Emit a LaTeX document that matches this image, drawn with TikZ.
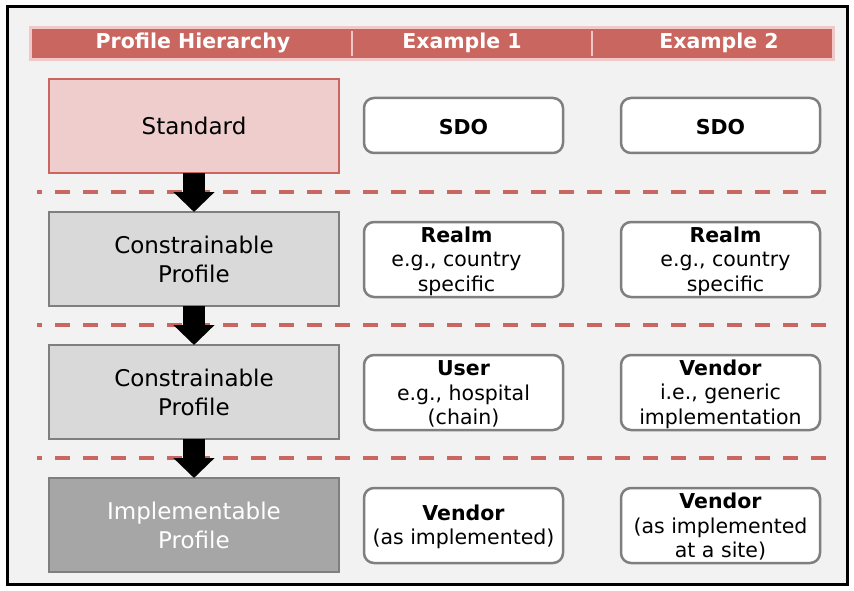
\documentclass[tikz,border=0pt]{standalone}
\usepackage{fontspec}
\setmainfont{DejaVu Sans}
\usetikzlibrary{arrows.meta}
\definecolor{hdr}{RGB}{201,102,96}
\definecolor{hdredge}{RGB}{240,200,200}
\definecolor{stdfill}{RGB}{238,205,204}
\definecolor{bgc}{RGB}{242,242,242}
\definecolor{grayfill}{RGB}{217,217,217}
\definecolor{darkfill}{RGB}{166,166,166}
\definecolor{edgegray}{RGB}{127,127,127}
\tikzset{
  lbox/.style={rectangle, minimum width=290pt, minimum height=94pt, line width=2.5pt,
    draw=edgegray, fill=grayfill, align=center, inner sep=0pt, outer sep=0pt,
    font=\fontsize{23}{29}\selectfont},
  rbox/.style={rectangle, rounded corners=10pt, minimum width=199pt, minimum height=75pt,
    line width=2.5pt, draw=edgegray, fill=white, outer sep=0pt},
  rtext/.style={align=center, inner sep=0pt, font=\fontsize{20.5}{24.5}\selectfont},
  htext/.style={text=white, font=\fontsize{20.5}{24}\selectfont\bfseries},
  sep/.style={draw=hdr, line width=4pt, dash pattern=on 15pt off 13pt, dash phase=10pt},
  blockarrow/.style={line width=22pt, -{Triangle[width=40pt,length=20pt]}},
}
\begin{document}
\begin{tikzpicture}[x=1pt,y=-1pt]
\useasboundingbox (0,0) rectangle (854,591);
\fill[white] (0,0) rectangle (854,591);
\draw[line width=3pt, fill=bgc] (7,7) rectangle (847,584);
% header
\draw[line width=3pt, draw=hdredge, fill=hdr] (30.5,27.5) rectangle (833.5,59.5);
\draw[hdredge, line width=2.5pt] (352,31) -- (352,56);
\draw[hdredge, line width=2.5pt] (592,31) -- (592,56);
\node[htext] (h1) at (193,43) {Profile Hierarchy};
\node[htext] (h2) at (462,43) {Example 1};
\node[htext] (h3) at (719,43) {Example 2};
% dashed separators
\draw[sep] (37,192) -- (826,192);
\draw[sep] (37,325) -- (826,325);
\draw[sep] (37,458) -- (826,458);
% left column
\node[lbox, draw=hdr, fill=stdfill] (std) at (194,126) {Standard};
\node[lbox] (c1) at (194,259) {Constrainable\\Profile};
\node[lbox] (c2) at (194,392) {Constrainable\\Profile};
\node[lbox, fill=darkfill, text=white] (imp) at (194,525) {Implementable\\Profile};
\draw[blockarrow] (std.south) -- (c1.north);
\draw[blockarrow] (c1.south) -- (c2.north);
\draw[blockarrow] (c2.south) -- (imp.north);
% example 1
\node[rbox, minimum height=55pt] (a1) at (463.5,125.5) {};
\node[rtext] (a1t) at ([yshift=-2pt]a1.center) {\textbf{SDO}};
\node[rbox] (a2) at (463.5,259.5) {};
\node[rtext] (a2t) at ([xshift=-7pt,yshift=-1.5pt]a2.center) {\textbf{Realm}\\e.g., country\\specific};
\node[rbox] (a3) at (463.5,392.5) {};
\node[rtext] (a3t) at ([yshift=-1.5pt]a3.center) {\textbf{User}\\e.g., hospital\\(chain)};
\node[rbox] (a4) at (463.5,525.5) {};
\node[rtext] (a4t) at ([yshift=-1.5pt]a4.center) {\textbf{Vendor}\\(as implemented)};
% example 2
\node[rbox, minimum height=55pt] (b1) at (720.5,125.5) {};
\node[rtext] (b1t) at ([yshift=-2pt]b1.center) {\textbf{SDO}};
\node[rbox] (b2) at (720.5,259.5) {};
\node[rtext] (b2t) at ([xshift=5pt,yshift=-1.5pt]b2.center) {\textbf{Realm}\\e.g., country\\specific};
\node[rbox] (b3) at (720.5,392.5) {};
\node[rtext] (b3t) at ([yshift=-1.5pt]b3.center) {\textbf{Vendor}\\i.e., generic\\implementation};
\node[rbox] (b4) at (720.5,525.5) {};
\node[rtext] (b4t) at ([yshift=-1.5pt]b4.center) {\textbf{Vendor}\\(as implemented\\at a site)};
\end{tikzpicture}
\end{document}
